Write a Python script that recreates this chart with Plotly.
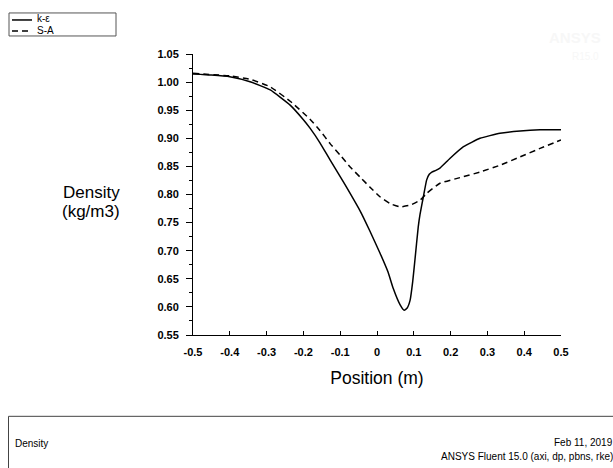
import plotly.graph_objects as go

# ---- data ----
ke_x = [-0.5, -0.45, -0.4, -0.345, -0.29, -0.236, -0.2, -0.182, -0.155, -0.128, -0.1,
        -0.073, -0.046, -0.02, 0.008, 0.03, 0.044, 0.0625, 0.074, 0.082, 0.09, 0.097,
        0.103, 0.112, 0.117, 0.126, 0.135, 0.142, 0.149, 0.16, 0.171, 0.198, 0.235,
        0.28, 0.334, 0.389, 0.443, 0.5]
ke_y = [1.0144, 1.0126, 1.0096, 1.0007, 0.986, 0.959, 0.933, 0.918, 0.892, 0.862, 0.832,
        0.802, 0.771, 0.736, 0.696, 0.662, 0.633, 0.604, 0.594, 0.598, 0.612, 0.645,
        0.683, 0.742, 0.765, 0.796, 0.826, 0.836, 0.840, 0.843, 0.847, 0.864, 0.885,
        0.900, 0.909, 0.913, 0.915, 0.915]

sa_x = [-0.5, -0.4, -0.345, -0.291, -0.236, -0.182, -0.155, -0.128, -0.1, -0.073, -0.046,
        -0.019, 0.008, 0.035, 0.0625, 0.09, 0.117, 0.135, 0.171, 0.2255, 0.28, 0.334,
        0.389, 0.443, 0.5]
sa_y = [1.0156, 1.011, 1.005, 0.992, 0.966, 0.934, 0.914, 0.891, 0.870, 0.849, 0.831,
        0.813, 0.796, 0.784, 0.778, 0.781, 0.790, 0.802, 0.820, 0.830, 0.840, 0.852,
        0.867, 0.882, 0.897]

series_names = ["k-ε", "S-A"]
x_ticks = [-0.5, -0.4, -0.3, -0.2, -0.1, 0, 0.1, 0.2, 0.3, 0.4, 0.5]
x_tick_text = ["-0.5", "-0.4", "-0.3", "-0.2", "-0.1", "0", "0.1", "0.2", "0.3", "0.4", "0.5"]
y_ticks = [0.55, 0.60, 0.65, 0.70, 0.75, 0.80, 0.85, 0.90, 0.95, 1.00, 1.05]
y_tick_text = ["0.55", "0.60", "0.65", "0.70", "0.75", "0.80", "0.85", "0.90", "0.95", "1.00", "1.05"]

FONT = "Liberation Sans, Arial, sans-serif"
W, H = 613, 468
L, R, T, B = 193, 561, 54, 334.75


def xp(px):
    return (px - L) / (R - L)


def yp(py):
    return (B - py) / (B - T)


fig = go.Figure()
fig.add_trace(go.Scatter(x=ke_x, y=ke_y, mode="lines", name=series_names[0],
                         line=dict(color="black", width=1.5, shape="spline", smoothing=0.4)))
fig.add_trace(go.Scatter(x=sa_x, y=sa_y, mode="lines", name=series_names[1],
                         line=dict(color="black", width=1.5, dash="6px,4px",
                                   shape="spline", smoothing=0.4)))

shapes = [
    # legend box
    dict(type="rect", xref="paper", yref="paper", x0=xp(9), x1=xp(116), y0=yp(36), y1=yp(13),
         line=dict(color="#555555", width=1)),
    dict(type="line", xref="paper", yref="paper", x0=xp(12), x1=xp(32), y0=yp(20), y1=yp(20),
         line=dict(color="black", width=1.5)),
    dict(type="line", xref="paper", yref="paper", x0=xp(12), x1=xp(32), y0=yp(31), y1=yp(31),
         line=dict(color="black", width=1.5, dash="6px,4px")),
    # bottom info box
    dict(type="rect", xref="paper", yref="paper", x0=xp(8.5), x1=xp(650), y0=yp(500), y1=yp(416),
         line=dict(color="#444444", width=1)),
]

annotations = [
    dict(text=series_names[0], x=xp(35), y=yp(19), xref="paper", yref="paper",
         xanchor="left", yanchor="middle", showarrow=False, font=dict(family=FONT, size=10, color="black")),
    dict(text=series_names[1], x=xp(35), y=yp(31), xref="paper", yref="paper",
         xanchor="left", yanchor="middle", showarrow=False, font=dict(family=FONT, size=10, color="black")),
    dict(text="Density", x=xp(91), y=yp(192), xref="paper", yref="paper",
         xanchor="center", yanchor="middle", showarrow=False,
         font=dict(family=FONT, size=17, color="black")),
    dict(text="(kg/m3)", x=xp(91), y=yp(211), xref="paper", yref="paper",
         xanchor="center", yanchor="middle", showarrow=False,
         font=dict(family=FONT, size=17, color="black")),
    dict(text="Density", x=xp(13), y=yp(443), xref="paper", yref="paper",
         xanchor="left", yanchor="middle", showarrow=False, font=dict(family=FONT, size=10, color="black")),
    dict(text="Feb 11, 2019", x=xp(615), y=yp(442), xref="paper", yref="paper",
         xanchor="right", yanchor="middle", showarrow=False, font=dict(family=FONT, size=10, color="black")),
    dict(text="ANSYS Fluent 15.0 (axi, dp, pbns, rke)", x=xp(615), y=yp(456), xref="paper", yref="paper",
         xanchor="right", yanchor="middle", showarrow=False, font=dict(family=FONT, size=10, color="black")),
    # faint watermark
    dict(text="<b>ANSYS</b>", x=xp(603), y=yp(38), xref="paper", yref="paper",
         xanchor="right", yanchor="middle", showarrow=False, font=dict(family=FONT, size=15, color="#f7f7f7")),
    dict(text="R15.0", x=xp(601), y=yp(56), xref="paper", yref="paper",
         xanchor="right", yanchor="middle", showarrow=False, font=dict(family=FONT, size=10, color="#f7f7f7")),
]

fig.update_layout(
    width=W, height=H,
    margin=dict(l=L, r=W - R, t=T, b=H - B),
    paper_bgcolor="white", plot_bgcolor="white",
    showlegend=False,
    shapes=shapes,
    annotations=annotations,
    xaxis=dict(range=[-0.5, 0.5], tickvals=x_ticks, ticktext=x_tick_text,
               showgrid=False, zeroline=False, showline=True, linecolor="black", linewidth=1,
               ticks="inside", ticklen=4, tickcolor="black", ticklabelstandoff=7,
               tickfont=dict(family=FONT, size=11, color="black", weight="bold"),
               title=dict(text="Position (m)", font=dict(family=FONT, size=17.5, color="black"), standoff=14)),
    yaxis=dict(range=[0.55, 1.05], tickvals=y_ticks, ticktext=y_tick_text,
               showgrid=False, zeroline=False, showline=True, linecolor="black", linewidth=1,
               ticks="outside", ticklen=6, tickcolor="black", ticklabelstandoff=5,
               minor=dict(dtick=0.025, tick0=0.55, ticks="outside", ticklen=3, tickcolor="black"),
               tickfont=dict(family=FONT, size=11, color="black", weight="bold")),
)

fig.write_html("out.html")
